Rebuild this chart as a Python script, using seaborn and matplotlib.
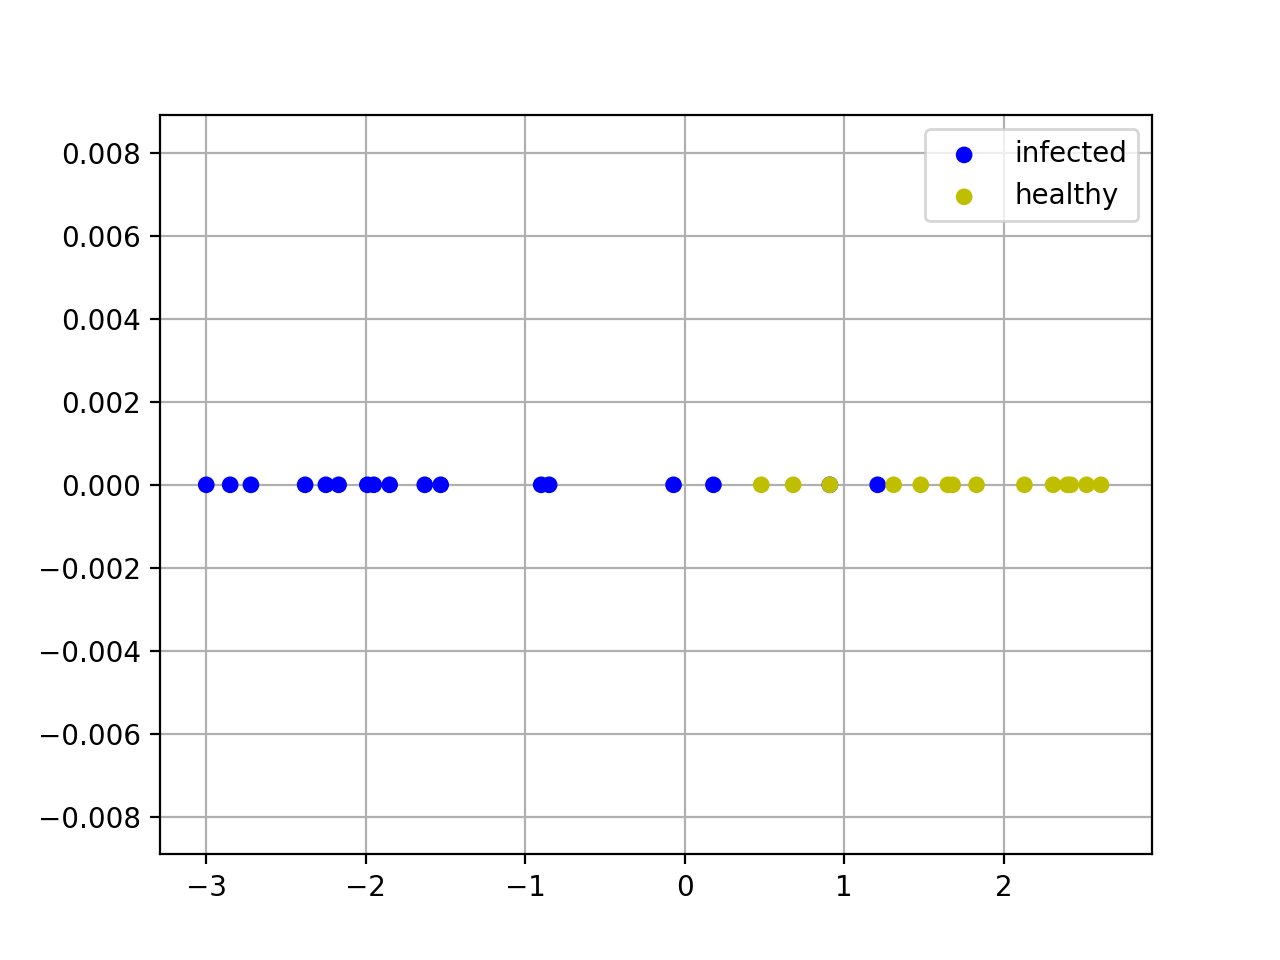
import matplotlib
matplotlib.use("Agg")
import matplotlib.pyplot as plt
import numpy as np
import seaborn as sns

infected = [-3.00, -2.85, -2.72, -2.38, -2.25, -2.17, -1.99, -1.95, -1.85, -1.63, -1.53,
            -0.90, -0.85, -0.07, 0.18, 0.91, 1.21]
healthy = [0.48, 0.68, 0.91, 1.31, 1.48, 1.65, 1.68, 1.83, 2.13, 2.31, 2.40, 2.42, 2.52, 2.61]

fig, ax = plt.subplots(figsize=(6.4, 4.8), dpi=200)
sns.scatterplot(x=infected, y=np.zeros(len(infected)), color="b", s=36, edgecolor="none",
                label="infected", ax=ax)
sns.scatterplot(x=healthy, y=np.zeros(len(healthy)), color="y", s=36, edgecolor="none",
                label="healthy", ax=ax)
ax.set_ylim(-0.0089, 0.0089)
ax.set_xlim(-3.29, 2.93)
ax.set_yticks(np.arange(-0.008, 0.0081, 0.002))
ax.grid(True)
ax.set_axisbelow(True)
ax.legend(loc="upper right")
fig.savefig("out.png")
